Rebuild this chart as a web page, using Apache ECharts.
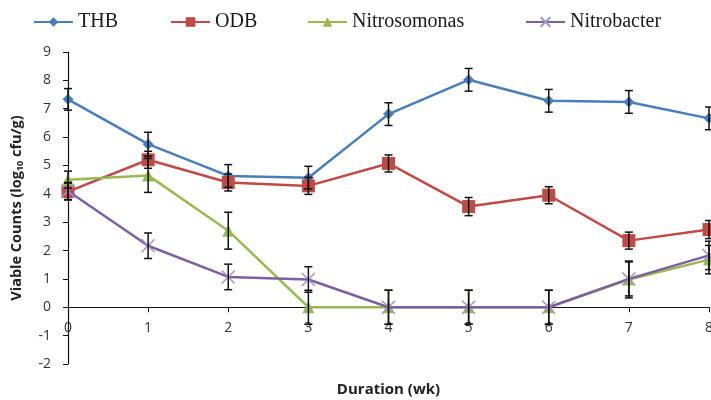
<!DOCTYPE html>
<html><head><meta charset="utf-8">
<script src="https://cdn.jsdelivr.net/npm/echarts@6/dist/echarts.min.js"></script>
<style>html,body{margin:0;padding:0;background:#fff}#c{width:711px;height:400px}</style>
</head><body><div id="c"></div>
<script>
var weeks = [0,1,2,3,4,5,6,7,8];
var thb = [7.33,5.75,4.63,4.57,6.81,8.02,7.28,7.24,6.66];
var thbErr = [0.38,0.42,0.4,0.4,0.4,0.4,0.4,0.4,0.4];
var odb = [4.08,5.2,4.4,4.28,5.07,3.55,3.95,2.35,2.74];
var odbErr = [0.3,0.3,0.3,0.3,0.3,0.32,0.3,0.3,0.32];
var nitroso = [4.5,4.65,2.7,0,0,0,0,0.98,1.68];
var nitrosoErr = [0.3,0.6,0.65,0.6,0.6,0.6,0.6,0.65,0.5];
var nitrob = [4.1,2.17,1.07,0.98,0,0,0,1.0,1.83];
var nitrobErr = [0.3,0.45,0.45,0.45,0.6,0.6,0.6,0.6,0.5];
var yTicks = [-2,-1,0,1,2,3,4,5,6,7,8,9];

var names = ['THB','ODB','Nitrosomonas','Nitrobacter'];
var colors = ['#4A7EBB','#BE4B48','#98B954','#7D60A0'];
var vals = [thb, odb, nitroso, nitrob];
var errs = [thbErr, odbErr, nitrosoErr, nitrobErr];
var xMark = 'path://M0,0L10,10M10,0L0,10';
var symbols = ['diamond','rect','triangle',xMark];
var sizes = [11,13,12,13];

var series = [];
names.forEach(function(n,i){
  var s = {
    name:n, type:'line', data: weeks.map(function(w,j){return [w, vals[i][j]];}),
    symbol: symbols[i], symbolSize: sizes[i],
    lineStyle:{color:colors[i], width:2.5},
    itemStyle:{color:colors[i]},
    z: 3 + i
  };
  if(i===3){ s.itemStyle = {color:'rgba(0,0,0,0)', borderColor:'#A593C8', borderWidth:1.5}; s.symbolSize=[13,13]; }
  series.push(s);
});
series.push({
  type:'custom', z: 10, silent:true,
  data: (function(){var d=[];vals.forEach(function(v,i){weeks.forEach(function(w,j){d.push([w, v[j], errs[i][j]]);});});return d;})(),
  renderItem: function(params, api){
    var x = api.value(0), y = api.value(1), e = api.value(2);
    var top = api.coord([x, y+e]), bot = api.coord([x, y-e]);
    var cw = 4, st = {stroke:'#111', lineWidth:1.5};
    return {type:'group', children:[
      {type:'line', shape:{x1:top[0],y1:top[1],x2:bot[0],y2:bot[1]}, style:st},
      {type:'line', shape:{x1:top[0]-cw,y1:top[1],x2:top[0]+cw,y2:top[1]}, style:st},
      {type:'line', shape:{x1:bot[0]-cw,y1:bot[1],x2:bot[0]+cw,y2:bot[1]}, style:st}
    ]};
  }
});

var legendLefts = [28,165,302,520];
var legends = names.map(function(n,i){
  return {data:[n], left:legendLefts[i], top:7, itemWidth:39, itemHeight:12, itemGap:4,
    textStyle:{fontFamily:'Liberation Serif', fontSize:20, color:'#1a1a1a'}};
});

var gTop = 52, gBottom = 36, yMin = -2, yMax = 9;
var plotH = 400 - gTop - gBottom;
var zeroOffset = -plotH * (0 - yMin) / (yMax - yMin);

var chart = echarts.init(document.getElementById('c'));
chart.setOption({
  animation:false,
  legend: legends,
  grid:{left:68, right:2, top:gTop, bottom:gBottom, containLabel:false, outerBoundsMode:'none'},
  xAxis:{type:'value', min:0, max:8, interval:1, offset: zeroOffset,
    name:'Duration (wk)', nameLocation:'middle', nameGap:82,
    nameTextStyle:{fontFamily:'Open Sans', fontWeight:'bold', fontSize:15, color:'#222', verticalAlign:'middle'},
    axisLine:{onZero:false, lineStyle:{color:'#111', width:1.2}},
    axisTick:{length:5, lineStyle:{color:'#111'}},
    axisLabel:{fontFamily:'Open Sans', fontSize:14, color:'#333', margin:14},
    splitLine:{show:false}
  },
  yAxis:{type:'value', min:yMin, max:yMax, interval:1,
    name:'{a|Viable Counts (log}{s|10}{a| cfu/g)}', nameLocation:'middle', nameGap:51, nameRotate:90,
    nameTextStyle:{verticalAlign:'middle', rich:{a:{fontFamily:'Open Sans', fontWeight:'bold', fontSize:14.5, color:'#222'}, s:{fontFamily:'Open Sans', fontWeight:'bold', fontSize:9, color:'#222', padding:[7,0,0,0]}}},
    axisLine:{show:true, lineStyle:{color:'#111', width:1.2}},
    axisTick:{show:true, length:5, lineStyle:{color:'#111'}},
    axisLabel:{fontFamily:'Open Sans', fontSize:14, color:'#333', margin:17,
      formatter:function(v){return yTicks.indexOf(v)>=0 ? String(v) : '';}},
    splitLine:{show:false}
  },
  series: series
});
</script></body></html>
